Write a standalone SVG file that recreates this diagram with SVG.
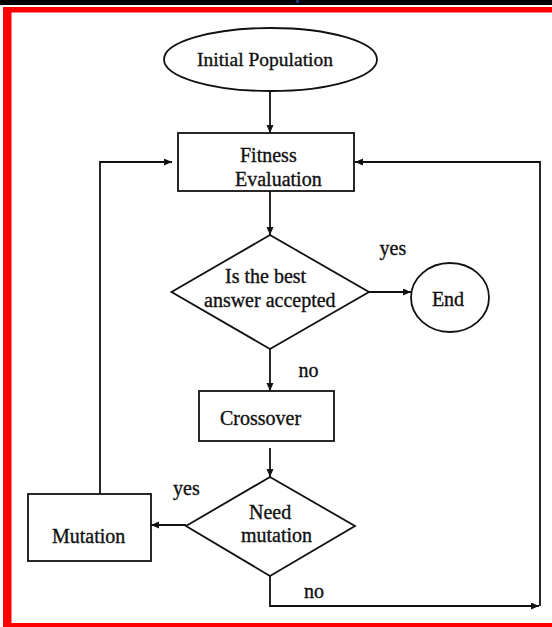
<svg xmlns="http://www.w3.org/2000/svg" width="552" height="627" viewBox="0 0 552 627">
<style>
.shape{fill:#fff;stroke:#111;stroke-width:1.8}
.conn{fill:none;stroke:#111;stroke-width:1.8}
text{font-family:"Liberation Serif","Times New Roman",serif;font-size:20px;fill:#111;stroke:#111;stroke-width:0.35}
.c{text-anchor:middle}
</style>
<defs>
<marker id="arr" markerWidth="9" markerHeight="8" refX="8" refY="3.5" orient="auto" markerUnits="userSpaceOnUse">
<path d="M0,0 L8,3.5 L0,7 z" fill="#111"/>
</marker>
</defs>
<rect x="0" y="0" width="552" height="627" fill="#fff"/>
<rect x="0" y="0" width="552" height="5" fill="#000"/>
<rect x="296" y="0" width="3" height="3" fill="#1f2f6f"/>
<rect x="3" y="7" width="549" height="5.5" fill="#ff0000"/>
<rect x="3" y="7" width="8.5" height="620" fill="#ff0000"/>
<rect x="3" y="623" width="549" height="4" fill="#ff0000"/>

<g id="connectors">
<path class="conn" d="M270,91 V133" marker-end="url(#arr)"/>
<path class="conn" d="M270,191 V235" marker-end="url(#arr)"/>
<path class="conn" d="M369,292 H411" marker-end="url(#arr)"/>
<path class="conn" d="M270,349 V391" marker-end="url(#arr)"/>
<path class="conn" d="M270,448 V477" marker-end="url(#arr)"/>
<path class="conn" d="M186,525 H151" marker-end="url(#arr)"/>
<path class="conn" d="M100,494 V162 H172" marker-end="url(#arr)"/>
<path class="conn" d="M270,576 V606 H539" marker-end="url(#arr)"/>
<path class="conn" d="M540,606 V162 H355" marker-end="url(#arr)"/>
<text x="379.5" y="255">yes</text>
<text x="298.5" y="377">no</text>
<text x="173" y="495">yes</text>
<text x="304" y="598">no</text>
</g>

<g id="initial-population">
<ellipse class="shape" cx="270.5" cy="59.5" rx="106.5" ry="31.5"/>
<text class="c" x="265" y="66" style="font-size:19.5px">Initial Population</text>
</g>

<g id="fitness-evaluation">
<rect class="shape" x="178" y="133" width="176" height="58"/>
<text x="240" y="162">Fitness</text>
<text x="235" y="186">Evaluation</text>
</g>

<g id="best-accepted">
<polygon class="shape" points="270,235 369,292 270,349 171.5,292"/>
<text x="225" y="283">Is the best</text>
<text x="204" y="307">answer accepted</text>
</g>

<g id="end">
<ellipse class="shape" cx="450" cy="297.5" rx="39" ry="34.5"/>
<text class="c" x="448" y="306">End</text>
</g>

<g id="crossover">
<rect class="shape" x="199" y="391" width="135" height="50"/>
<text x="220" y="425">Crossover</text>
</g>

<g id="need-mutation">
<polygon class="shape" points="270,477 355,526 270,576 186,526"/>
<text x="249" y="519">Need</text>
<text x="241" y="542">mutation</text>
</g>

<g id="mutation">
<rect class="shape" x="28" y="494" width="123" height="67"/>
<text x="52" y="543">Mutation</text>
</g>
</svg>
